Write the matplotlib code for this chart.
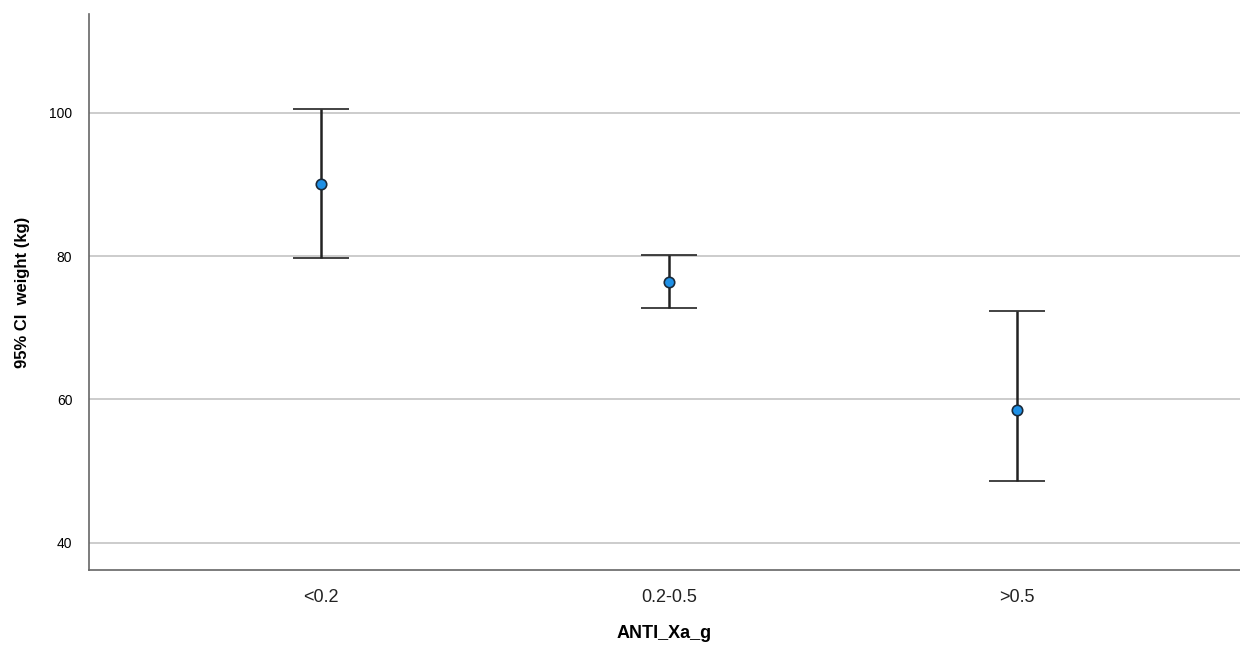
import numpy as np
import matplotlib.pyplot as plt

groups = ["<0.2", "0.2-0.5", ">0.5"]
mean_wt = [90.05, 76.45, 58.6]
ci_low = [79.7, 72.75, 48.6]
ci_high = [100.5, 80.15, 72.35]

plt.rcParams['font.family'] = ['Liberation Sans', 'DejaVu Sans']

fig = plt.figure(figsize=(12.4, 6.45), dpi=100)
ax = fig.add_axes([89/1240, 75/645, 1 - 89/1240, (570-14)/645])

x = np.arange(len(groups))
mean = np.array(mean_wt)
yerr = [mean - np.array(ci_low), np.array(ci_high) - mean]

for yv in [40, 60, 80, 100]:
    ax.axhline(yv, color="#c8c8c8", lw=1.3, zorder=0)

ax.errorbar(x, mean, yerr=yerr, fmt="o", color="#222222", ecolor="#222222",
            elinewidth=1.8, capsize=20.5, capthick=1.8,
            markerfacecolor="#1e90e6", markeredgecolor="#1a2a3a",
            markeredgewidth=1.2, markersize=7.5, zorder=3)

ax.set_xlim(-0.667, 2.64)
ax.set_ylim(36.2, 113.8)
ax.set_xticks(x)
ax.set_xticklabels(groups, fontsize=13, color="#222222")
ax.set_yticks([40, 60, 80, 100])
ax.tick_params(axis="y", labelsize=10, length=0, pad=12)
ax.tick_params(axis="x", length=0, pad=14)
for s in ["top", "right"]:
    ax.spines[s].set_visible(False)
for s in ["left", "bottom"]:
    ax.spines[s].set_color("#666666")
    ax.spines[s].set_linewidth(1.2)

ax.set_xlabel("ANTI_Xa_g", fontsize=13, fontweight="bold", labelpad=13)
ax.set_ylabel("95% CI  weight (kg)", fontsize=12, fontweight="bold", labelpad=14)

fig.savefig("out.png", dpi=100)
